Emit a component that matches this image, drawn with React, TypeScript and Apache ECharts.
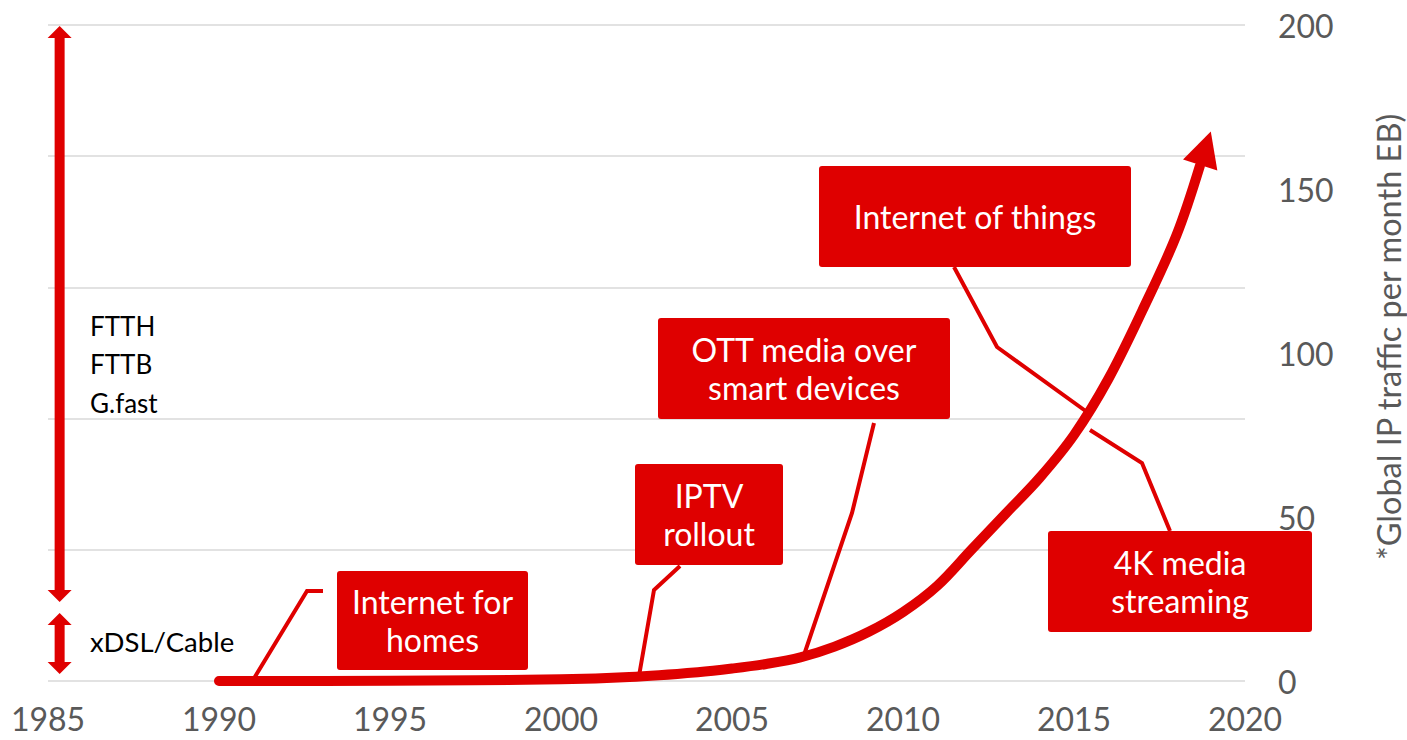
import React, { useEffect, useRef } from "react";
import * as echarts from "echarts";

// ---- data ----
const trafficYears = [1990, 1995, 2000, 2002, 2004, 2005, 2006, 2007, 2008, 2009, 2010, 2011, 2012, 2013, 2014, 2015, 2016, 2017, 2018, 2018.68];
const trafficValues = [0, 0.1, 0.5, 1.2, 2.7, 3.8, 5.2, 7.2, 10.5, 15, 21, 29, 40, 51, 62, 75, 92, 113, 136, 157];
const arrowTip = [2019.0, 167.5];

const xTicks = { min: 1985, max: 2020, interval: 5 };
const yTicks = { min: 0, max: 200, interval: 50 };

const bandLabels = ["FTTH\nFTTB\nG.fast", "xDSL/Cable"];
const bandX = [1985.34, 1985.34];
const bandTop = [199.7, 20.7];
const bandBottom = [24.1, 2.1];

const axisTitle = "*Global IP traffic per month EB)";

const annotations = [
  { text: "Internet for\nhomes", box: [337, 571, 191, 99], lines: [[[323, 591], [307, 591], [253, 680]]] },
  { text: "IPTV\nrollout", box: [635, 464, 148, 101], lines: [[[680, 566], [654, 590], [639, 676]]] },
  { text: "OTT media over\nsmart devices", box: [658, 318, 292, 101], lines: [[[874, 423], [852, 513], [804, 655]]] },
  { text: "Internet of things", box: [819, 166, 312, 101], lines: [[[954, 267], [997, 347], [1087, 412]]] },
  { text: "4K media\nstreaming", box: [1048, 531, 264, 101], lines: [[[1090, 430], [1142, 463], [1170, 531]]] },
];

const RED = "#DF0000";
const GRAY = "#595959";
const FONT = "Lato, 'Open Sans', sans-serif";

function headPoints(tip: number[], from: number[], len: number, halfW: number) {
  const dx = tip[0] - from[0];
  const dy = tip[1] - from[1];
  const L = Math.hypot(dx, dy) || 1;
  const ux = dx / L, uy = dy / L;
  const bx = tip[0] - ux * len, by = tip[1] - uy * len;
  return [
    [tip[0], tip[1]],
    [bx - uy * halfW, by + ux * halfW],
    [bx + uy * halfW, by - ux * halfW],
  ];
}

export default function App() {
  const ref = useRef<HTMLDivElement>(null);
  useEffect(() => {
    if (!ref.current) return;
    const chart = echarts.init(ref.current, undefined, { renderer: "svg" });

    const graphics: any[] = [];
    annotations.forEach((a) => {
      a.lines.forEach((pts) => {
        graphics.push({
          type: "polyline",
          z: 90,
          shape: { points: pts },
          style: { stroke: RED, lineWidth: 4, fill: null, lineJoin: "miter" },
        });
      });
    });
    annotations.forEach((a) => {
      const [x, y, w, h] = a.box;
      graphics.push({
        type: "rect",
        z: 100,
        shape: { x, y, width: w, height: h, r: 3 },
        style: { fill: RED },
      });
      graphics.push({
        type: "text",
        z: 101,
        x: x + w / 2,
        y: y + h / 2,
        style: {
          text: a.text,
          fill: "#ffffff",
          font: `32px ${FONT}`,
          align: "center",
          verticalAlign: "middle",
          lineHeight: 38,
        },
      });
    });
    // band labels
    graphics.push({
      type: "text",
      x: 90,
      y: 364,
      style: { text: bandLabels[0], fill: "#000", font: `26px ${FONT}`, align: "left", verticalAlign: "middle", lineHeight: 38.5 },
    });
    graphics.push({
      type: "text",
      x: 90,
      y: 641,
      style: { text: bandLabels[1], fill: "#000", font: `27.5px ${FONT}`, align: "left", verticalAlign: "middle" },
    });
    graphics.push({
      type: "text",
      x: 1388,
      y: 337,
      rotation: Math.PI / 2,
      style: { text: axisTitle, fill: GRAY, font: `32.5px ${FONT}`, align: "center", verticalAlign: "middle" },
    });

    const bandData = bandX.map((x, i) => [x, bandTop[i], x, bandBottom[i]]);

    chart.setOption({
      animation: false,
      grid: { left: 48, right: 162, top: 25, bottom: 59 },
      xAxis: {
        type: "value",
        min: xTicks.min,
        max: xTicks.max,
        interval: xTicks.interval,
        axisLine: { show: false },
        axisTick: { show: false },
        splitLine: { show: false },
        axisLabel: {
          color: GRAY,
          fontSize: 32,
          fontFamily: FONT,
          margin: 21,
          showMinLabel: true,
          showMaxLabel: true,
          formatter: (v: number) => String(v),
        },
      },
      yAxis: [
        {
          type: "value",
          position: "left",
          min: 0,
          max: 200,
          interval: 40,
          axisLine: { show: false },
          axisTick: { show: false },
          axisLabel: { show: false },
          splitLine: { show: true, lineStyle: { color: "#d9d9d9", width: 1.5 } },
        },
        {
          type: "value",
          position: "right",
          min: yTicks.min,
          max: yTicks.max,
          interval: yTicks.interval,
          axisLine: { show: false },
          axisTick: { show: false },
          splitLine: { show: false },
          axisLabel: { color: GRAY, fontSize: 32, fontFamily: FONT, margin: 33, align: "left" },
        },
      ],
      series: [
        {
          type: "line",
          yAxisIndex: 0,
          data: trafficYears.map((y, i) => [y, trafficValues[i]]),
          smooth: 0.35,
          showSymbol: false,
          symbol: "none",
          lineStyle: { color: RED, width: 10, cap: "round", join: "round" },
          z: 5,
        },
        {
          type: "custom",
          yAxisIndex: 0,
          clip: false,
          encode: { x: [0, 2], y: [1, 3] },
          data: [[trafficYears[trafficYears.length - 1], trafficValues[trafficValues.length - 1], arrowTip[0], arrowTip[1]]],
          renderItem: (params: any, api: any) => {
            const p0 = api.coord([api.value(0), api.value(1)]);
            const p1 = api.coord([api.value(2), api.value(3)]);
            return {
              type: "polygon",
              shape: { points: headPoints(p1, p0, 35, 18) },
              style: { fill: RED },
            };
          },
          z: 6,
        },
        {
          type: "custom",
          yAxisIndex: 0,
          clip: false,
          encode: { x: [0, 2], y: [1, 3] },
          data: bandData,
          renderItem: (params: any, api: any) => {
            const pTop = api.coord([api.value(0), api.value(1)]);
            const pBot = api.coord([api.value(2), api.value(3)]);
            const hl = 12;
            return {
              type: "group",
              children: [
                {
                  type: "line",
                  shape: { x1: pTop[0], y1: pTop[1] + hl - 1, x2: pBot[0], y2: pBot[1] - hl + 1 },
                  style: { stroke: RED, lineWidth: 10 },
                },
                { type: "polygon", shape: { points: headPoints(pTop, pBot, hl, 12) }, style: { fill: RED } },
                { type: "polygon", shape: { points: headPoints(pBot, pTop, hl, 12) }, style: { fill: RED } },
              ],
            };
          },
          z: 6,
        },
      ],
      graphic: graphics,
    });
    return () => chart.dispose();
  }, []);
  return <div ref={ref} style={{ position: "fixed", left: 0, top: 0, width: 1407, height: 740, background: "#fff" }} />;
}
